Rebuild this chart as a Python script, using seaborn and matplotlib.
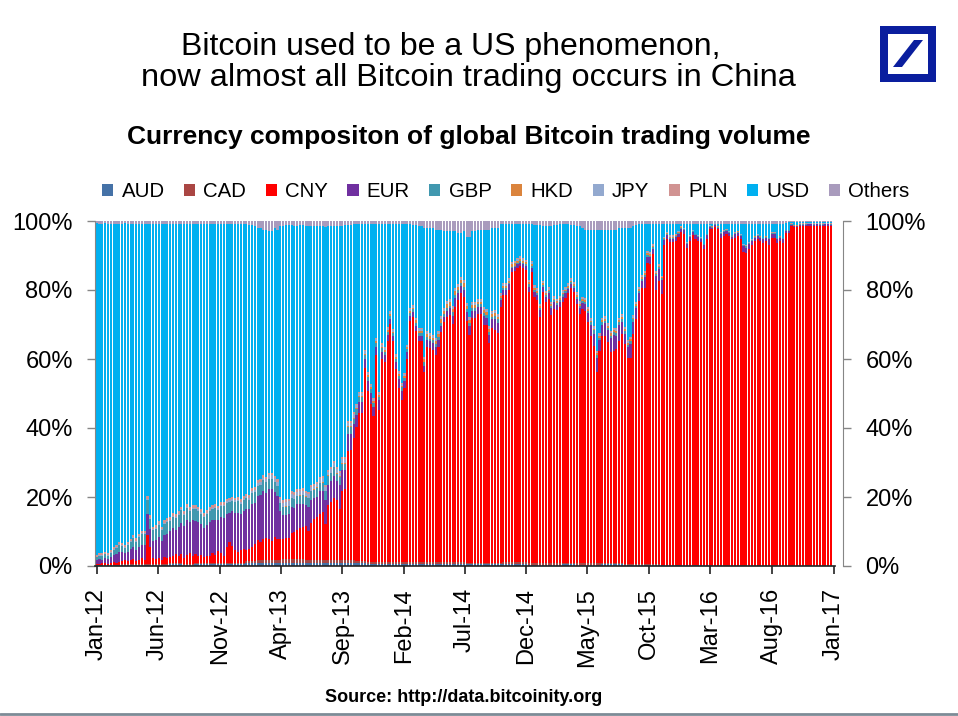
import numpy as np
import pandas as pd
import matplotlib
matplotlib.use("Agg")
import matplotlib.pyplot as plt
from matplotlib.patches import Patch, Rectangle, Polygon
from matplotlib.lines import Line2D
import seaborn as sns

# weekly shares in %, first week starts 1 Jan 2012 (13 weeks per row)
cny = [
    0.3, 0.3, 0.4, 0.5, 0.3, 0.5, 0.8, 0.6, 0.7, 0.9, 1.0, 0.8, 1.2,
    1.6, 1.0, 1.3, 1.7, 1.2, 8.5, 5.0, 1.7, 1.5, 1.8, 1.2, 2.0, 1.6,
    1.8, 2.2, 2.6, 2.0, 2.8, 1.5, 2.5, 3.0, 2.2, 2.6, 2.0, 2.4, 1.8,
    2.2, 2.0, 3.0, 2.5, 3.5, 2.8, 1.8, 4.5, 6.0, 4.8, 3.5, 3.0, 3.6,
    4.0, 3.2, 3.5, 4.2, 5.0, 5.8, 5.5, 6.2, 6.5, 6.0, 5.5, 6.6, 6.0,
    6.0, 5.8, 6.2, 6.0, 7.5, 8.0, 8.5, 9.0, 9.5, 10.0, 8.5, 11.0, 12.0,
    12.5, 13.5, 14.0, 10.5, 16.0, 17.0, 18.0, 17.5, 15.0, 20.0, 20.5, 31.5, 32.0,
    35.5, 39.0, 43.0, 43.0, 56.0, 49.5, 46.0, 42.5, 60.0, 44.0, 59.0, 58.0, 64.0,
    69.0, 64.0, 56.0, 50.5, 47.0, 50.5, 59.0, 70.0, 71.0, 67.0, 64.0, 64.0, 55.0,
    62.5, 62.0, 61.5, 60.0, 62.5, 66.5, 69.5, 71.0, 71.5, 69.0, 74.0, 76.0, 78.0,
    77.0, 70.0, 66.0, 71.0, 71.0, 72.0, 72.0, 69.0, 69.0, 63.5, 68.0, 67.5, 66.5,
    74.0, 77.5, 77.5, 79.0, 84.0, 84.3, 85.3, 85.8, 85.3, 84.8, 78.5, 84.3, 77.0,
    76.0, 71.3, 78.5, 75.6, 76.6, 71.8, 73.7, 73.2, 74.2, 75.6, 76.6, 78.0, 79.5,
    78.5, 75.2, 72.3, 73.7, 73.2, 69.9, 66.0, 63.0, 55.4, 61.6, 66.0, 66.0, 64.0,
    61.2, 61.6, 62.0, 64.5, 66.5, 63.6, 59.7, 59.7, 66.5, 71.0, 76.0, 80.0, 80.0,
    87.0, 87.0, 90.0, 79.5, 82.0, 78.5, 92.6, 94.5, 93.5, 93.5, 94.0, 95.0, 96.4,
    96.0, 92.0, 94.0, 95.5, 94.5, 94.0, 93.5, 91.6, 94.5, 97.4, 97.4, 98.0, 97.4,
    95.0, 95.5, 96.0, 95.5, 94.5, 95.0, 95.5, 94.5, 91.0, 90.6, 91.6, 93.0, 94.0,
    94.5, 94.0, 93.5, 94.0, 93.0, 95.0, 95.0, 93.5, 94.0, 93.5, 96.4, 96.4, 98.4,
    98.0, 98.0, 98.4, 98.4, 98.4, 98.5, 98.5, 98.4, 98.5, 98.4, 98.4, 98.5, 98.5,
    98.4,
]
eur = [
    1.0, 1.2, 1.0, 1.5, 1.3, 1.8, 2.0, 2.5, 3.0, 2.5, 2.2, 2.8, 3.0,
    3.5, 3.0, 3.8, 4.0, 4.5, 6.0, 5.0, 5.0, 5.5, 6.0, 5.5, 6.5, 7.0,
    7.5, 8.0, 7.0, 8.5, 9.0, 9.5, 10.0, 9.0, 10.5, 9.5, 10.0, 9.0, 8.5,
    9.0, 10.0, 9.5, 10.0, 9.0, 10.5, 11.0, 9.5, 8.5, 10.0, 11.0, 11.5, 10.5,
    11.0, 12.0, 11.5, 12.5, 12.0, 13.0, 13.5, 14.0, 13.0, 14.5, 15.0, 13.0, 12.5,
    8.0, 7.0, 6.5, 7.0, 7.5, 7.0, 7.5, 7.0, 6.5, 6.0, 7.0, 6.5, 6.0,
    6.0, 6.5, 6.0, 7.0, 6.0, 6.0, 6.5, 5.5, 7.0, 6.0, 5.5, 5.0, 4.5,
    4.0, 3.5, 3.0, 3.0, 2.5, 3.0, 3.0, 2.5, 2.5, 3.0, 2.0, 2.0, 1.8,
    1.5, 1.5, 2.0, 2.5, 2.5, 2.0, 2.0, 1.5, 1.5, 1.5, 1.5, 1.5, 2.0,
    2.0, 2.0, 2.0, 2.5, 2.0, 2.0, 1.5, 1.8, 2.0, 2.5, 2.5, 2.0, 2.0,
    2.0, 2.5, 2.5, 2.0, 2.0, 2.0, 2.0, 2.5, 2.0, 2.5, 2.5, 3.0, 3.0,
    2.0, 1.5, 1.5, 1.5, 1.2, 1.2, 1.0, 1.0, 1.0, 1.0, 1.5, 1.2, 1.5,
    1.5, 2.0, 1.5, 1.5, 1.5, 2.0, 1.8, 1.5, 1.5, 1.5, 1.5, 1.2, 1.2,
    1.2, 1.5, 1.8, 1.8, 2.0, 2.5, 3.0, 3.5, 4.0, 3.0, 3.0, 3.5, 3.5,
    4.0, 4.5, 4.0, 4.5, 3.5, 3.0, 3.0, 4.0, 3.5, 3.0, 2.5, 2.0, 3.0,
    2.0, 2.0, 1.5, 4.0, 3.5, 4.0, 1.5, 1.0, 1.0, 1.0, 1.0, 1.0, 1.0,
    1.0, 1.0, 1.0, 1.0, 1.0, 1.0, 1.0, 1.0, 1.0, 0.5, 0.5, 0.5, 0.5,
    1.0, 1.0, 0.8, 0.8, 0.8, 1.0, 1.0, 1.0, 1.5, 1.5, 1.5, 1.0, 1.0,
    1.0, 1.0, 1.0, 1.0, 1.5, 1.0, 1.0, 1.0, 1.0, 1.0, 0.5, 0.5, 0.4,
    0.4, 0.4, 0.4, 0.4, 0.4, 0.4, 0.4, 0.4, 0.4, 0.4, 0.4, 0.4, 0.4,
    0.4,
]
gbp = [
    0.8, 1.0, 1.2, 1.0, 1.0, 1.2, 1.5, 1.8, 2.0, 1.8, 1.5, 2.0, 2.2,
    2.5, 2.5, 2.8, 3.0, 3.0, 4.0, 3.0, 3.0, 3.2, 3.5, 3.0, 3.2, 3.5,
    3.0, 3.2, 3.5, 3.5, 3.5, 3.0, 3.5, 3.2, 3.0, 3.5, 3.2, 3.0, 3.0,
    3.0, 3.0, 3.2, 3.5, 3.0, 3.0, 3.5, 3.2, 3.0, 3.0, 3.0, 3.2, 3.0,
    3.0, 3.0, 2.8, 3.0, 3.0, 2.8, 3.0, 3.0, 3.2, 3.0, 3.0, 3.0, 3.0,
    2.5, 2.2, 2.5, 2.4, 2.6, 2.5, 2.3, 2.5, 2.6, 2.4, 2.5, 2.5, 2.4,
    2.5, 2.4, 2.6, 2.5, 2.5, 2.3, 2.5, 2.2, 2.2, 2.0, 2.0, 2.0, 2.0,
    1.5, 1.5, 1.5, 1.5, 1.2, 1.2, 1.2, 1.2, 1.0, 1.0, 1.0, 1.0, 1.0,
    0.8, 0.8, 1.0, 1.0, 1.2, 1.0, 0.8, 0.8, 0.8, 0.8, 0.8, 0.8, 1.0,
    0.8, 0.8, 0.8, 0.8, 0.8, 0.8, 0.8, 0.8, 0.8, 1.0, 1.0, 0.8, 0.8,
    0.8, 1.0, 1.0, 0.8, 0.8, 0.8, 0.8, 0.8, 0.8, 0.8, 0.8, 1.0, 1.0,
    0.6, 0.6, 0.6, 0.5, 0.5, 0.5, 0.5, 0.5, 0.5, 0.5, 0.6, 0.5, 0.6,
    0.6, 0.6, 0.6, 0.6, 0.6, 0.6, 0.6, 0.6, 0.6, 0.6, 0.5, 0.5, 0.5,
    0.5, 0.6, 0.6, 0.6, 0.6, 0.8, 0.8, 1.0, 1.0, 0.8, 0.8, 0.8, 0.8,
    0.8, 0.8, 0.8, 0.8, 0.8, 0.8, 0.8, 0.8, 0.8, 0.6, 0.6, 0.6, 0.6,
    0.5, 0.5, 0.4, 0.6, 0.6, 0.6, 0.4, 0.3, 0.3, 0.3, 0.3, 0.3, 0.3,
    0.3, 0.3, 0.3, 0.3, 0.3, 0.3, 0.3, 0.3, 0.3, 0.3, 0.3, 0.3, 0.3,
    0.3, 0.3, 0.3, 0.3, 0.3, 0.3, 0.3, 0.3, 0.4, 0.4, 0.4, 0.3, 0.3,
    0.3, 0.3, 0.3, 0.3, 0.3, 0.3, 0.3, 0.3, 0.3, 0.3, 0.2, 0.2, 0.1,
    0.1, 0.1, 0.1, 0.1, 0.1, 0.1, 0.1, 0.1, 0.1, 0.1, 0.1, 0.1, 0.1,
    0.1,
]
others = [
    0.7, 0.8, 0.8, 0.7, 0.8, 0.8, 0.8, 0.8, 0.8, 0.8, 0.7, 0.8, 0.8,
    0.8, 0.8, 0.8, 0.8, 0.8, 1.0, 0.8, 0.8, 0.8, 0.8, 0.8, 0.8, 0.8,
    0.8, 0.8, 0.8, 0.8, 0.8, 0.8, 0.8, 0.8, 0.8, 0.8, 0.8, 0.8, 0.8,
    0.8, 0.8, 0.8, 0.8, 0.8, 0.8, 0.8, 0.8, 0.8, 0.8, 0.8, 0.8, 0.8,
    1.0, 1.0, 1.2, 1.2, 1.5, 2.0, 2.0, 2.5, 2.5, 3.0, 3.0, 2.0, 2.5,
    1.5, 1.5, 1.2, 1.2, 1.2, 1.5, 1.5, 1.2, 1.2, 1.5, 1.5, 1.5, 1.5,
    1.5, 1.5, 1.5, 1.8, 1.5, 1.5, 1.5, 1.5, 1.5, 1.5, 1.2, 1.2, 1.2,
    1.0, 1.0, 1.0, 1.0, 1.0, 1.0, 1.0, 1.0, 1.0, 1.0, 1.0, 1.0, 1.0,
    1.0, 1.0, 1.0, 1.0, 1.0, 1.0, 1.0, 1.0, 1.2, 1.2, 1.5, 1.5, 2.0,
    2.0, 2.0, 2.0, 2.5, 2.5, 2.5, 3.0, 3.0, 3.0, 3.0, 3.0, 3.5, 3.5,
    3.0, 4.5, 4.5, 3.0, 3.0, 2.5, 2.5, 2.5, 2.5, 2.5, 2.0, 2.0, 2.0,
    1.0, 1.0, 1.0, 0.8, 0.8, 0.8, 0.8, 0.8, 0.8, 0.8, 1.0, 1.0, 1.2,
    1.2, 1.2, 1.5, 1.5, 1.5, 1.5, 1.2, 1.2, 1.0, 1.0, 1.0, 1.0, 1.2,
    1.2, 1.5, 1.5, 2.0, 2.5, 2.5, 2.5, 2.5, 2.5, 2.5, 2.5, 2.5, 2.5,
    2.5, 2.5, 2.5, 2.0, 2.0, 2.0, 2.0, 2.0, 1.5, 1.2, 1.0, 1.0, 1.0,
    1.0, 1.0, 1.0, 1.0, 1.0, 1.0, 0.8, 0.8, 0.8, 0.8, 0.8, 0.8, 0.8,
    0.8, 0.8, 0.8, 0.8, 0.8, 0.8, 0.8, 0.8, 0.8, 0.8, 0.8, 0.8, 0.8,
    0.8, 0.8, 0.8, 0.8, 0.8, 0.8, 0.8, 0.8, 0.8, 0.8, 0.8, 0.8, 0.8,
    0.8, 0.8, 0.8, 0.8, 0.8, 0.8, 0.8, 0.8, 0.8, 0.8, 0.5, 0.4, 0.3,
    0.3, 0.3, 0.3, 0.3, 0.3, 0.3, 0.3, 0.3, 0.3, 0.3, 0.3, 0.3, 0.3,
    0.3,
]

# monthly shares in % of the small currencies, Jan 2012 .. Dec 2016 (one row per year)
aud = [
    0.3, 0.3, 0.4, 0.3, 0.4, 0.4, 0.5, 0.4, 0.5, 0.5, 0.6, 0.6,
    0.8, 0.8, 1.0, 1.0, 0.9, 0.8, 0.8, 0.8, 0.9, 0.8, 0.6, 0.6,
    0.6, 0.6, 0.5, 0.5, 0.6, 0.6, 0.5, 0.5, 0.5, 0.5, 0.5, 0.4,
    0.4, 0.4, 0.5, 0.4, 0.4, 0.5, 0.5, 0.4, 0.4, 0.3, 0.2, 0.2,
    0.2, 0.2, 0.1, 0.1, 0.1, 0.1, 0.1, 0.1, 0.1, 0.1, 0.1, 0.1,
]
cad = [
    0.1, 0.1, 0.2, 0.2, 0.2, 0.2, 0.3, 0.3, 0.3, 0.3, 0.4, 0.4,
    0.6, 0.8, 0.8, 1.0, 1.0, 0.8, 0.8, 0.8, 0.8, 0.6, 0.5, 0.5,
    0.5, 0.5, 0.6, 0.6, 0.6, 0.5, 0.5, 0.5, 0.5, 0.6, 0.6, 0.6,
    0.5, 0.5, 0.5, 0.4, 0.4, 0.3, 0.3, 0.3, 0.3, 0.2, 0.2, 0.1,
    0.1, 0.1, 0.1, 0.1, 0.05, 0.05, 0.05, 0.05, 0.05, 0.05, 0.05, 0.05,
]
hkd = [
    0.0, 0.0, 0.0, 0.0, 0.0, 0.0, 0.0, 0.0, 0.0, 0.0, 0.0, 0.0,
    0.0, 0.0, 0.0, 0.1, 0.1, 0.2, 0.2, 0.2, 0.3, 0.4, 0.5, 0.5,
    0.5, 0.5, 0.8, 0.8, 1.0, 1.0, 0.8, 0.8, 0.8, 0.6, 0.6, 0.6,
    0.5, 0.5, 0.5, 0.5, 0.5, 0.6, 0.6, 0.5, 0.5, 0.4, 0.3, 0.2,
    0.1, 0.1, 0.1, 0.1, 0.1, 0.1, 0.1, 0.1, 0.1, 0.1, 0.1, 0.1,
]
jpy = [
    0.2, 0.2, 0.2, 0.3, 0.3, 0.3, 0.3, 0.4, 0.4, 0.4, 0.5, 0.5,
    0.6, 0.8, 1.0, 1.2, 1.2, 1.0, 1.0, 1.0, 1.0, 0.8, 0.6, 0.6,
    0.5, 0.5, 0.5, 0.5, 0.6, 0.6, 0.6, 0.6, 0.5, 0.5, 0.5, 0.5,
    0.4, 0.4, 0.4, 0.4, 0.4, 0.5, 0.5, 0.5, 0.4, 0.3, 0.2, 0.2,
    0.1, 0.1, 0.1, 0.1, 0.1, 0.1, 0.1, 0.1, 0.1, 0.1, 0.1, 0.1,
]
pln = [
    0.6, 0.6, 0.7, 0.7, 0.8, 0.8, 0.8, 0.8, 0.8, 0.8, 0.8, 0.8,
    0.8, 0.8, 0.8, 0.8, 0.7, 0.6, 0.6, 0.6, 0.5, 0.4, 0.3, 0.3,
    0.3, 0.3, 0.3, 0.3, 0.3, 0.3, 0.3, 0.3, 0.3, 0.3, 0.3, 0.3,
    0.3, 0.3, 0.3, 0.3, 0.3, 0.3, 0.3, 0.3, 0.2, 0.2, 0.1, 0.1,
    0.05, 0.05, 0.05, 0.05, 0.05, 0.05, 0.05, 0.05, 0.05, 0.05, 0.05, 0.05,
]

currencies = ["AUD", "CAD", "CNY", "EUR", "GBP", "HKD", "JPY", "PLN", "USD", "Others"]
colors = ["#4572A7", "#AA4643", "#FF0000", "#7030A0", "#4198AF",
          "#DB843D", "#93A9CF", "#D19392", "#00B0F0", "#A99BBD"]

tick_labels = ["Jan-12", "Jun-12", "Nov-12", "Apr-13", "Sep-13", "Feb-14", "Jul-14",
               "Dec-14", "May-15", "Oct-15", "Mar-16", "Aug-16", "Jan-17"]
tick_dates = ["2012-01-01", "2012-06-01", "2012-11-01", "2013-04-01", "2013-09-01",
              "2014-02-01", "2014-07-01", "2014-12-01", "2015-05-01", "2015-10-01",
              "2016-03-01", "2016-08-01", "2017-01-01"]

# weekly table
weeks = pd.date_range("2012-01-01", periods=len(cny), freq="7D")
month = (weeks.year - 2012) * 12 + weeks.month - 1
df = pd.DataFrame({
    "AUD": np.array(aud)[month], "CAD": np.array(cad)[month], "CNY": cny,
    "EUR": eur, "GBP": gbp, "HKD": np.array(hkd)[month],
    "JPY": np.array(jpy)[month], "PLN": np.array(pln)[month], "Others": others,
})
df["USD"] = 100 - df.sum(axis=1)  # USD fills the rest of each 100% bar
cum = df[currencies].cumsum(axis=1)
pos = np.arange(len(df))

sns.set_style("ticks")
plt.rcParams["font.family"] = ["Liberation Sans", "DejaVu Sans"]
plt.rcParams["text.color"] = "black"

fig = plt.figure(figsize=(9.58, 7.16), dpi=100)
ax = fig.add_axes([95 / 958, 1 - 566 / 716, 740 / 958, 345 / 716])

# stacked bars: draw cumulative totals from the top layer down
for name, col in reversed(list(zip(currencies, colors))):
    sns.barplot(x=pos, y=cum[name].values, color=col, width=0.75, saturation=1,
                linewidth=0, errorbar=None, ax=ax)

ax.set_xlim(-0.6, len(df) + 0.4)
ax.set_ylim(0, 100)
tick_pos = (pd.to_datetime(tick_dates) - weeks[0]).days / 7
ax.set_xticks(tick_pos)
ax.set_xticklabels(tick_labels, rotation=90)
ax.set_yticks(range(0, 101, 20))
ax.set_yticklabels([f"{v}%" for v in range(0, 101, 20)])
ax.set_xlabel("")
ax.set_ylabel("")
ax.tick_params(axis="x", length=6, width=1.2, color="#222222", pad=10,
               labelsize=17, labelcolor="black")
ax.tick_params(axis="y", length=6, width=1, color="#868686", pad=10,
               labelsize=17, labelcolor="black", right=True, labelright=True)
ax.spines["top"].set_visible(False)
ax.spines["right"].set_position(("outward", 6))
ax.spines["right"].set_color("#868686")
ax.spines["left"].set_color("#868686")
ax.spines["bottom"].set_color("#222222")
ax.spines["bottom"].set_linewidth(1.2)

handles = [Patch(facecolor=c, edgecolor="none") for c in colors]
fig.legend(handles, currencies, ncol=10, loc="center", bbox_to_anchor=(0.528, 0.732),
           frameon=False, fontsize=14.7, handlelength=0.55, handleheight=0.55,
           handletextpad=0.4, columnspacing=0.95, borderpad=0)

fig.text(451 / 958, 1 - 47 / 716, "Bitcoin used to be a US phenomenon,",
         ha="center", va="center", fontsize=23)
fig.text(468 / 958, 1 - 78 / 716, "now almost all Bitcoin trading occurs in China",
         ha="center", va="center", fontsize=23.4)
fig.text(469 / 958, 1 - 137 / 716, "Currency compositon of global Bitcoin trading volume",
         ha="center", va="center", fontsize=19, fontweight="bold")
fig.text(464 / 958, 1 - 697 / 716, "Source: http://data.bitcoinity.org",
         ha="center", va="center", fontsize=13, fontweight="bold")

# logo in the top right corner
blue = "#0A1E9E"
fig.add_artist(Rectangle((880 / 958, 1 - 82 / 716), 56 / 958, 56 / 716,
                         transform=fig.transFigure, facecolor=blue, edgecolor="none"))
fig.add_artist(Rectangle((888 / 958, 1 - 74 / 716), 40 / 958, 40 / 716,
                         transform=fig.transFigure, facecolor="white", edgecolor="none"))
slash = [(893, 67), (902, 67), (923, 40), (914, 40)]
fig.add_artist(Polygon([(x / 958, 1 - y / 716) for x, y in slash],
                       transform=fig.transFigure, facecolor=blue, edgecolor="none"))

fig.add_artist(Line2D([0, 1], [1 - 714 / 716] * 2, transform=fig.transFigure,
                      color="#7D8B96", linewidth=2))

fig.savefig("out.png", dpi=100)
